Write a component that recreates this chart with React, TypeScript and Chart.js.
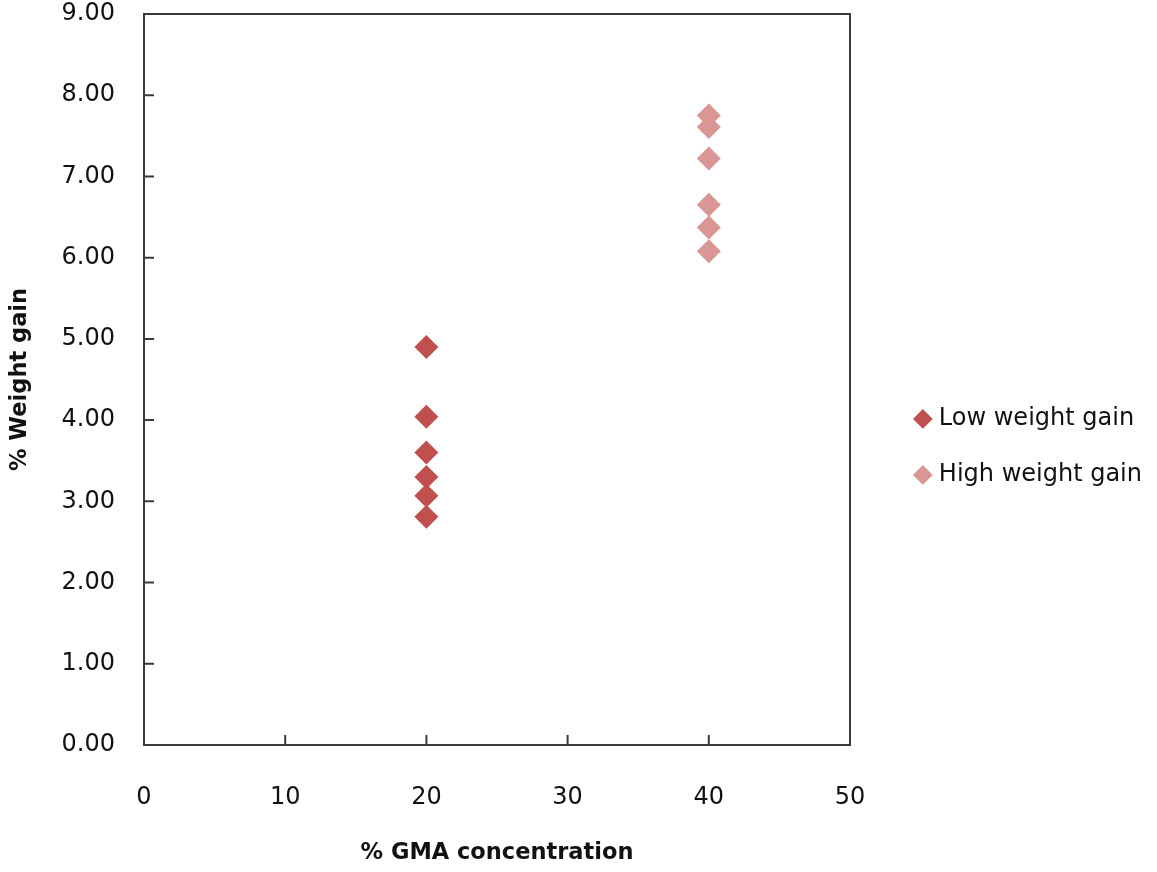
import React, { useEffect, useRef } from 'react';
import { Chart, registerables } from 'chart.js';

Chart.register(...registerables);

const seriesNames = ['Low weight gain', 'High weight gain'];
const lowX = [20, 20, 20, 20, 20, 20];
const lowY = [4.9, 4.04, 3.6, 3.3, 3.07, 2.81];
const highX = [40, 40, 40, 40, 40, 40];
const highY = [7.75, 7.61, 7.22, 6.65, 6.37, 6.08];
const xTitle = '% GMA concentration';
const yTitle = '% Weight gain';

const COLORS = ['#C0504D', '#D99694'];
const FONT = 'DejaVu Sans';
const TEXT = '#111111';
const LINE = '#3a3a3a';
const PLOT_RIGHT = 850;
const PAD_RIGHT = 5;

const framePlugin = {
  id: 'frame',
  beforeDatasetsDraw(chart: any) {
    const { ctx, chartArea } = chart;
    const { left, right, top, bottom } = chartArea;
    const xs = chart.scales.x;
    const ys = chart.scales.y;
    ctx.save();
    ctx.strokeStyle = LINE;
    ctx.lineWidth = 2;
    ctx.strokeRect(left, top, right - left, bottom - top);
    ctx.beginPath();
    xs.ticks.forEach((t: any) => {
      const px = xs.getPixelForValue(t.value);
      ctx.moveTo(px, bottom);
      ctx.lineTo(px, bottom - 10);
    });
    ys.ticks.forEach((t: any) => {
      const py = ys.getPixelForValue(t.value);
      ctx.moveTo(left, py);
      ctx.lineTo(left + 10, py);
    });
    ctx.stroke();
    ctx.restore();
  },
};

export default function App() {
  const ref = useRef<HTMLCanvasElement | null>(null);

  useEffect(() => {
    document.body.style.margin = '0';
    const canvas = ref.current;
    if (!canvas) return;
    const toPts = (xs: number[], ys: number[]) => xs.map((x, i) => ({ x, y: ys[i] }));
    const chart = new Chart(canvas, {
      type: 'scatter',
      data: {
        datasets: [
          {
            label: seriesNames[0],
            data: toPts(lowX, lowY),
            pointStyle: 'rectRot',
            pointRadius: 12,
            pointHoverRadius: 12,
            backgroundColor: COLORS[0],
            borderColor: COLORS[0],
            borderWidth: 0,
          },
          {
            label: seriesNames[1],
            data: toPts(highX, highY),
            pointStyle: 'rectRot',
            pointRadius: 12,
            pointHoverRadius: 12,
            backgroundColor: COLORS[1],
            borderColor: COLORS[1],
            borderWidth: 0,
          },
        ],
      },
      options: {
        animation: false,
        responsive: false,
        maintainAspectRatio: false,
        layout: { padding: { top: 14, right: PAD_RIGHT, bottom: 0, left: 0 } },
        plugins: {
          tooltip: { enabled: false },
          legend: {
            position: 'right',
            align: 'center',
            title: {
              display: true,
              text: ' ',
              padding: 0,
              font: { family: FONT, size: 6.5 },
            },
            labels: {
              usePointStyle: true,
              pointStyle: 'rectRot',
              boxWidth: 8,
              boxHeight: 14,
              padding: 32,
              color: TEXT,
              font: { family: FONT, size: 24 },
            },
          },
        },
        scales: {
          x: {
            type: 'linear',
            position: 'bottom',
            min: 0,
            max: 50,
            ticks: {
              stepSize: 10,
              padding: 38,
              color: TEXT,
              font: { family: FONT, size: 24 },
              callback: (v: any) => String(v),
            },
            afterFit: (s: any) => {
              s.height = 127;
              s.paddingLeft = 0;
              s.paddingRight = 0;
            },
            grid: { display: false, drawTicks: false },
            border: { display: false },
            title: {
              display: true,
              text: xTitle,
              color: TEXT,
              font: { family: FONT, size: 22.5, weight: 'bold' },
              padding: { top: 0, bottom: 5 },
            },
          },
          y: {
            type: 'linear',
            position: 'left',
            min: 0,
            max: 9,
            ticks: {
              stepSize: 1,
              padding: 29,
              color: TEXT,
              font: { family: FONT, size: 24 },
              callback: (v: any) => Number(v).toFixed(2),
            },
            afterFit: (s: any) => {
              s.width = 144;
              s.paddingTop = 0;
              s.paddingBottom = 0;
            },
            grid: { display: false, drawTicks: false },
            border: { display: false },
            title: {
              display: true,
              text: yTitle,
              color: TEXT,
              font: { family: FONT, size: 22.5, weight: 'bold' },
              padding: { top: 7, bottom: 0 },
            },
          },
          spacer: {
            type: 'linear',
            position: 'right',
            display: false,
            min: 0,
            max: 1,
            afterFit: (s: any) => {
              const lg = s.chart.legend;
              const lw = lg && isFinite(lg.width) ? lg.width : 256;
              s.width = Math.max(0, s.chart.width - PAD_RIGHT - lw - PLOT_RIGHT);
            },
          },
        },
      },
      plugins: [framePlugin],
    } as any);
    return () => chart.destroy();
  }, []);

  return (
    <div style={{ width: 1157, height: 872 }}>
      <canvas ref={ref} width={1157} height={872} style={{ display: 'block' }} />
    </div>
  );
}
